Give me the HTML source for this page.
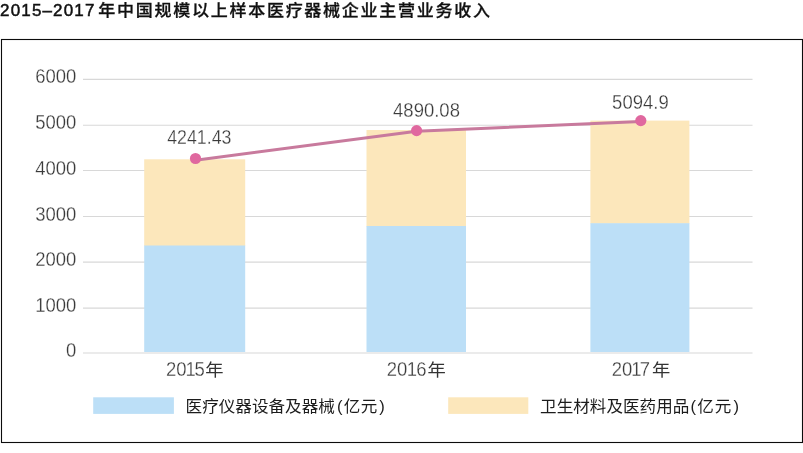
<!DOCTYPE html>
<html lang="zh-CN">
<head>
<meta charset="utf-8">
<title>2015–2017 年中国规模以上样本医疗器械企业主营业务收入</title>
<style>
html,body{margin:0;padding:0;background:#fff;}
body{width:803px;height:453px;overflow:hidden;position:relative;}
svg{display:block;position:absolute;left:0;top:0;}
text{font-family:"Liberation Sans","Noto Sans CJK SC",sans-serif;}
.title{font-size:17px;fill:#111;font-weight:500;stroke:#111;stroke-width:0.5px;letter-spacing:1.15px;}
.tcjk{font-size:17px;fill:#111;font-weight:500;stroke:#111;stroke-width:0.3px;letter-spacing:1.75px;}
.ax{font-size:18.5px;fill:#3a3a3a;font-weight:400;stroke:#fff;stroke-width:0.25px;}
.nian{font-size:18.3px;fill:#333;font-weight:400;}
.lg{font-size:16.58px;fill:#1c1c1c;font-weight:400;}
</style>
</head>
<body>
<svg width="803" height="453" viewBox="0 0 803 453">
<rect x="0" y="0" width="803" height="453" fill="#ffffff"/>
<text class="title" transform="translate(0.1 15.75) scale(1 0.97)">2015–2017</text>
<text class="tcjk" transform="translate(98.2 15.9) scale(1 0.96)">年中国规模以上样本医疗器械企业主营业务收入</text>
<rect x="1.5" y="39.5" width="801" height="403" fill="none" stroke="#0c0c0c" stroke-width="1.1"/>
<g stroke="#d8d8d8" stroke-width="1.1">
<line x1="83" x2="752.5" y1="79.4" y2="79.4"/>
<line x1="83" x2="752.5" y1="125.3" y2="125.3"/>
<line x1="83" x2="752.5" y1="170.5" y2="170.5"/>
<line x1="83" x2="752.5" y1="216.5" y2="216.5"/>
<line x1="83" x2="752.5" y1="262.1" y2="262.1"/>
<line x1="83" x2="752.5" y1="308.1" y2="308.1"/>
<line x1="83" x2="752.5" y1="353.0" y2="353.0"/>
</g>
<text class="ax" text-anchor="end" transform="translate(76.3 83.4) scale(1 1.065)">6000</text>
<text class="ax" text-anchor="end" transform="translate(76.3 129.0) scale(1 1.065)">5000</text>
<text class="ax" text-anchor="end" transform="translate(76.3 174.6) scale(1 1.065)">4000</text>
<text class="ax" text-anchor="end" transform="translate(76.3 221.2) scale(1 1.065)">3000</text>
<text class="ax" text-anchor="end" transform="translate(76.3 265.9) scale(1 1.065)">2000</text>
<text class="ax" text-anchor="end" transform="translate(76.3 311.6) scale(1 1.065)">1000</text>
<text class="ax" text-anchor="end" transform="translate(76.3 357.4) scale(1 1.065)">0</text>
<rect x="144.2" y="159.3" width="101.0" height="86.7" fill="#fce7bb"/>
<rect x="144.2" y="245.5" width="101.0" height="106.5" fill="#bcdff7"/>
<rect x="366.5" y="130.0" width="99.5" height="96.5" fill="#fce7bb"/>
<rect x="366.5" y="226.0" width="99.5" height="126.0" fill="#bcdff7"/>
<rect x="590.4" y="120.6" width="99.0" height="103.1" fill="#fce7bb"/>
<rect x="590.4" y="223.2" width="99.0" height="128.8" fill="#bcdff7"/>
<polyline points="195.5,160.2 416.6,131.3 640.8,121.6" fill="none" stroke="#c87a9d" stroke-width="3" stroke-linejoin="round"/>
<circle cx="195.5" cy="158.5" r="5.6" fill="#e0689f"/>
<circle cx="416.6" cy="130.6" r="5.6" fill="#e0689f"/>
<circle cx="640.8" cy="120.6" r="5.6" fill="#e0689f"/>
<text class="ax" text-anchor="middle" transform="translate(199.3 144.2) scale(0.96 1.065)">4241.43</text>
<text class="ax" text-anchor="middle" transform="translate(426.5 117.0) scale(1.0 1.065)">4890.08</text>
<text class="ax" text-anchor="middle" transform="translate(640.4 109.1) scale(1.0 1.065)">5094.9</text>
<text class="ax" transform="translate(166.0 376.3) scale(1 1.065)">20<tspan dx="-1.0">1</tspan><tspan dx="-1.3">5</tspan></text>
<text class="nian" transform="translate(205.3 375.9) scale(1 0.935)">年</text>
<text class="ax" transform="translate(386.7 376.3) scale(1 1.065)">20<tspan dx="-0.5">1</tspan><tspan dx="-0.8">6</tspan></text>
<text class="nian" transform="translate(427.5 375.9) scale(1 0.935)">年</text>
<text class="ax" transform="translate(611.8 376.3) scale(1 1.065)">20<tspan dx="-1.0">1</tspan><tspan dx="-1.8">7</tspan></text>
<text class="nian" transform="translate(651.9 375.9) scale(1 0.935)">年</text>
<rect x="93.2" y="397.3" width="80.7" height="16.6" fill="#bcdff7"/>
<text class="lg" transform="translate(185.6 411.9) scale(1 0.96)">医疗仪器设备及器械<tspan dx="2.3">(</tspan><tspan dx="1.2">亿</tspan><tspan dx="0.3">元</tspan><tspan dx="2.0">)</tspan></text>
<rect x="448.2" y="397.3" width="80.1" height="16.6" fill="#fce7bb"/>
<text class="lg" transform="translate(540.1 411.9) scale(1 0.96)">卫生材料及医药用品<tspan dx="1.3">(</tspan><tspan dx="1.2">亿</tspan><tspan dx="0.9">元</tspan><tspan dx="2.0">)</tspan></text>
</svg>
</body>
</html>
